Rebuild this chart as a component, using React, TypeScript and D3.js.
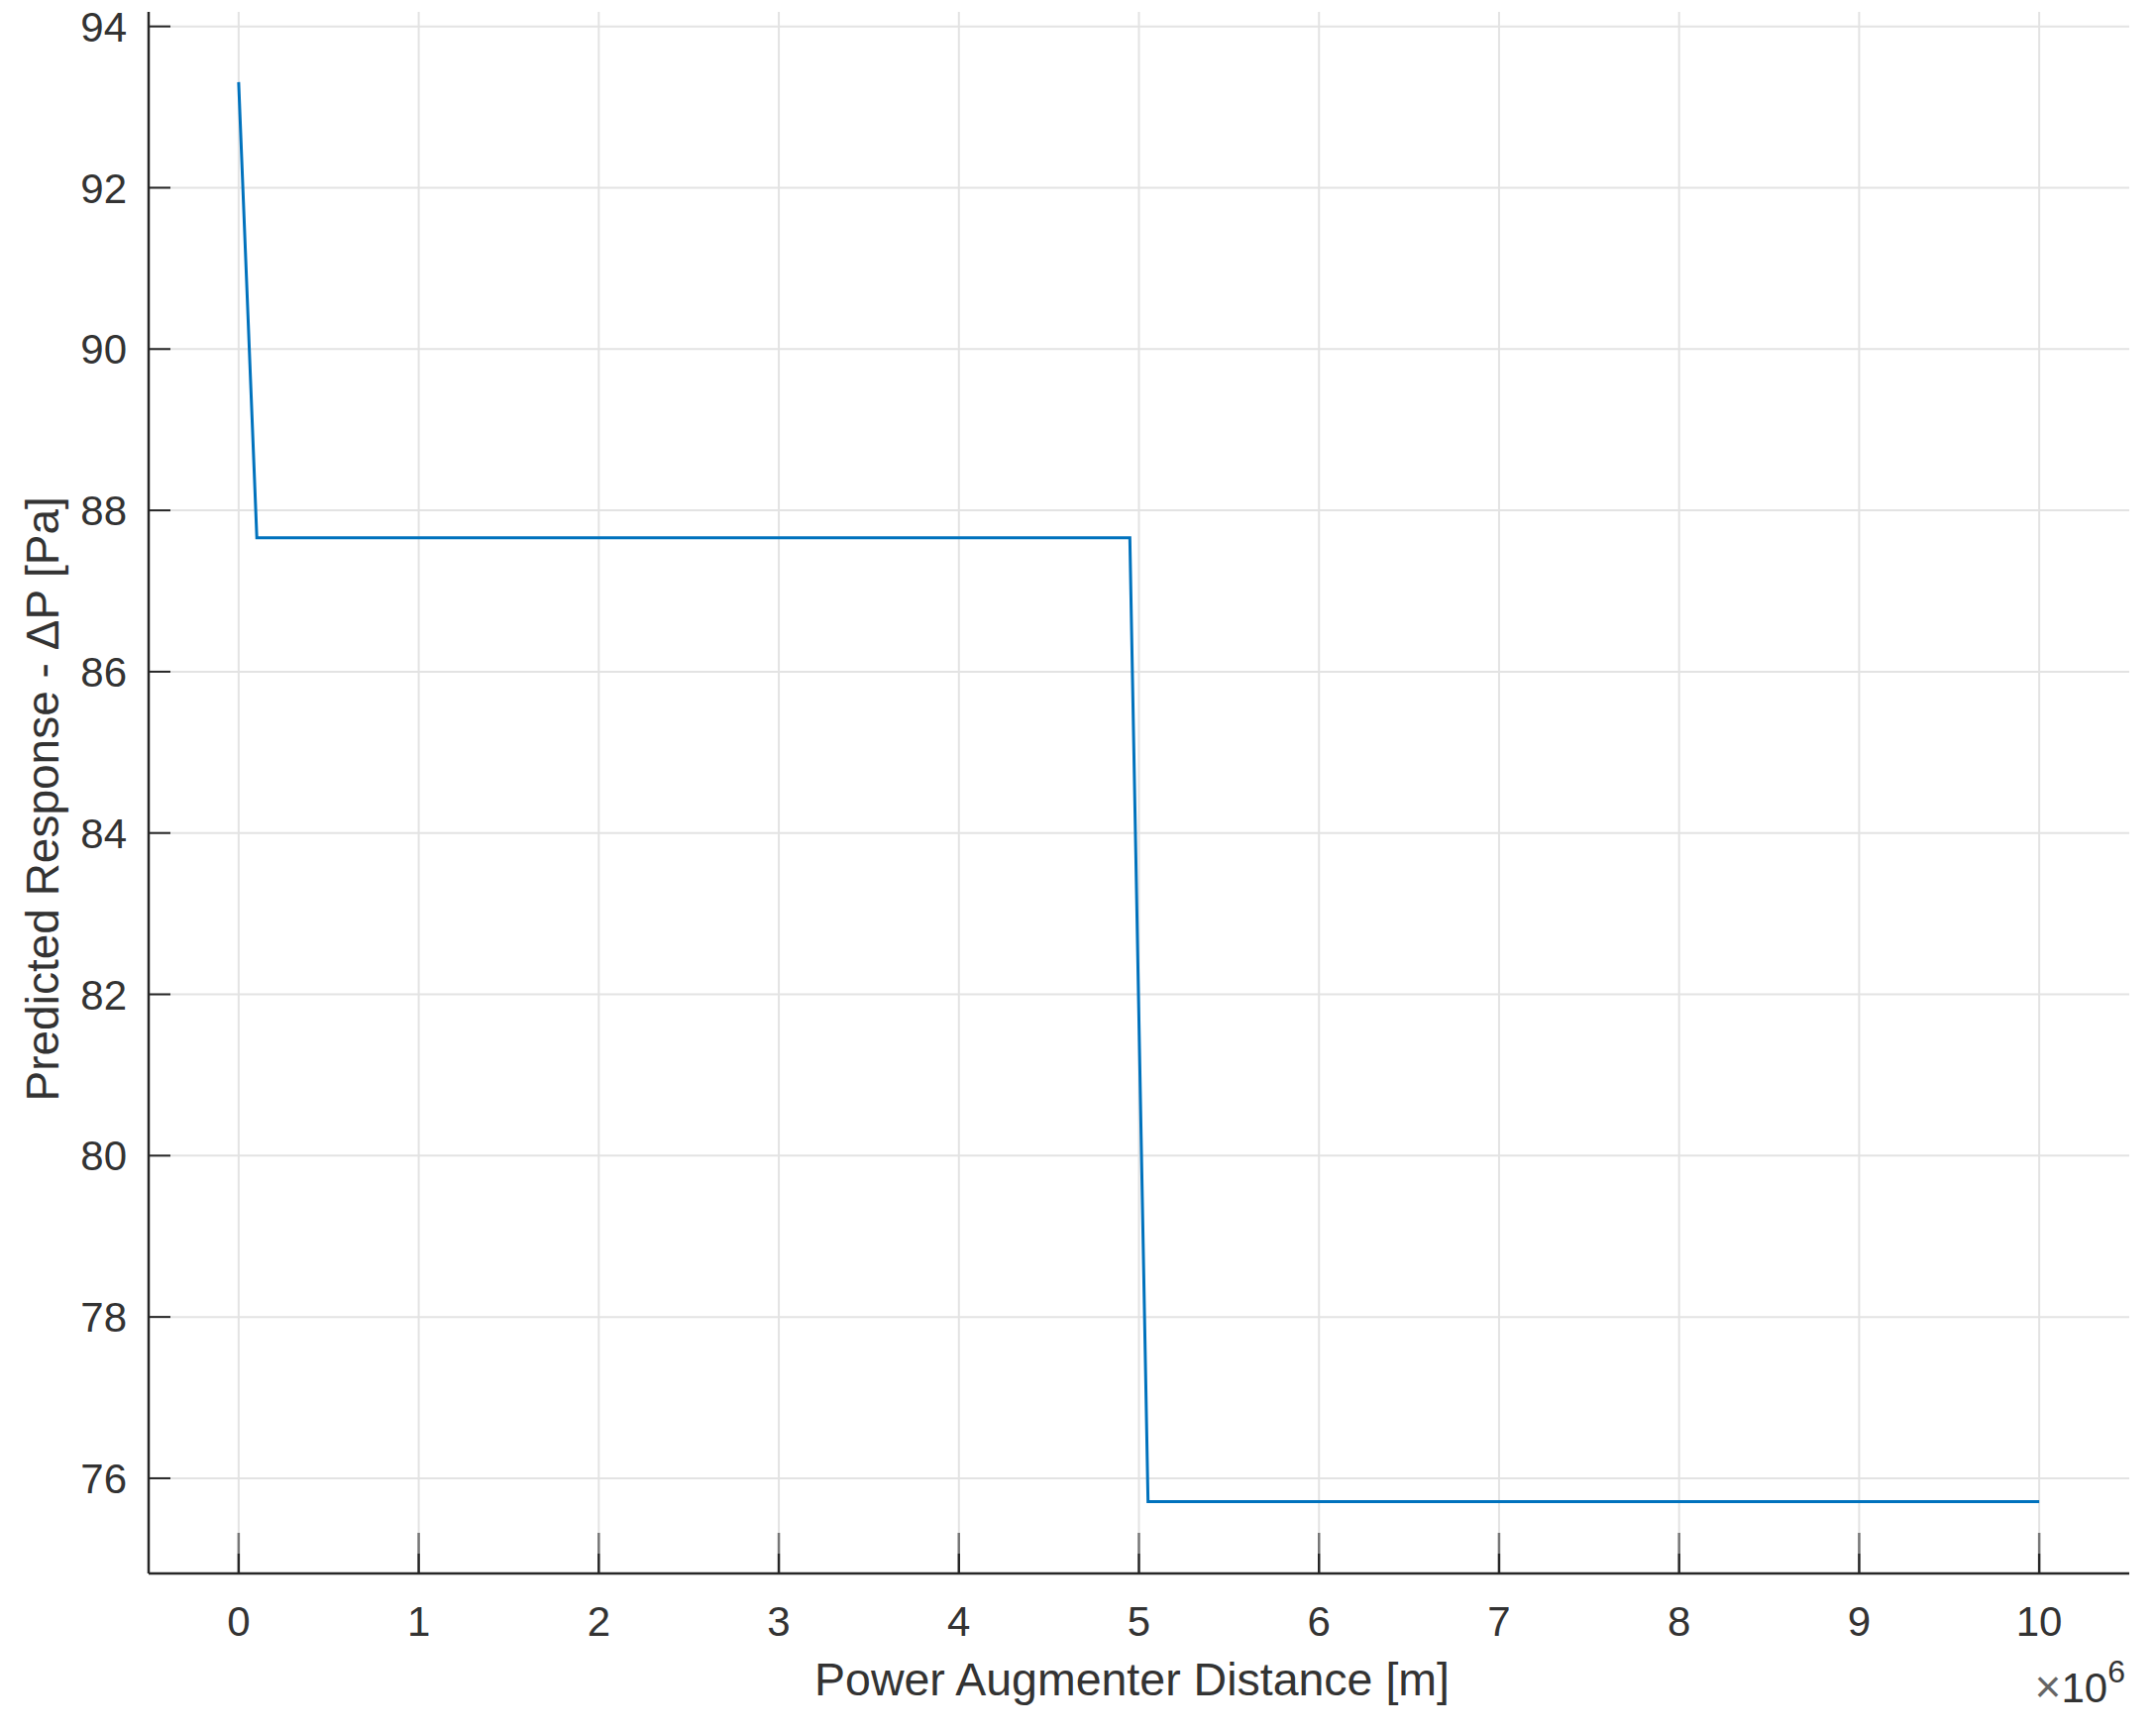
import React, { useEffect, useRef } from "react";
import * as d3 from "d3";

// step response, x in metres (axis shows x10^6)
const xValues = [0, 101010, 4949495, 5050505, 10000000];
const yValues = [93.31, 87.66, 87.66, 75.71, 75.71];
const xTicks = [0, 1, 2, 3, 4, 5, 6, 7, 8, 9, 10];
const yTicks = [76, 78, 80, 82, 84, 86, 88, 90, 92, 94];
const xLabel = "Power Augmenter Distance [m]";
const yLabel = "Predicted Response - \u0394P [Pa]";

function App() {
  const svgRef = useRef<SVGSVGElement>(null);
  const width = 2176;
  const height = 1747;

  useEffect(() => {
    const svg = d3.select(svgRef.current);
    svg.selectAll("*").remove();

    const left = 150, right = 2149, top = 12, bottom = 1588;
    const x = d3.scaleLinear().domain([-0.5, 10.5]).range([left, right]);
    const y = d3.scaleLinear().domain([74.82, 94.18]).range([bottom, top]);
    const axisColor = "#262626";
    const textColor = "#333";
    const font = "'Liberation Sans', Arial, sans-serif";

    // grid
    svg.append("g")
      .selectAll("line")
      .data(yTicks)
      .join("line")
      .attr("x1", left).attr("x2", right)
      .attr("y1", d => y(d)).attr("y2", d => y(d))
      .attr("stroke", "#e3e3e3").attr("stroke-width", 2);
    svg.append("g")
      .selectAll("line")
      .data(xTicks)
      .join("line")
      .attr("x1", d => x(d)).attr("x2", d => x(d))
      .attr("y1", top).attr("y2", bottom)
      .attr("stroke", "#e3e3e3").attr("stroke-width", 2);

    // line
    const line = d3.line<number>()
      .x((d, i) => x(xValues[i] / 1e6))
      .y(d => y(d));
    svg.append("path")
      .datum(yValues)
      .attr("d", line)
      .attr("fill", "none")
      .attr("stroke", "#0072BD")
      .attr("stroke-width", 3);

    // axes
    svg.append("line")
      .attr("x1", left).attr("x2", left).attr("y1", top).attr("y2", bottom)
      .attr("stroke", axisColor).attr("stroke-width", 2.5);
    svg.append("line")
      .attr("x1", left).attr("x2", right).attr("y1", bottom).attr("y2", bottom)
      .attr("stroke", axisColor).attr("stroke-width", 2.5);

    // y ticks
    svg.append("g")
      .selectAll("line")
      .data(yTicks)
      .join("line")
      .attr("x1", left).attr("x2", left + 22)
      .attr("y1", d => y(d)).attr("y2", d => y(d))
      .attr("stroke", axisColor).attr("stroke-width", 2);
    svg.append("g")
      .selectAll("text")
      .data(yTicks)
      .join("text")
      .attr("x", 128)
      .attr("y", d => y(d))
      .attr("dy", "0.36em")
      .attr("text-anchor", "end")
      .attr("font-family", font)
      .attr("font-size", 42)
      .attr("fill", textColor)
      .text(d => d);

    // x ticks
    const xt = svg.append("g");
    xt.selectAll("line.a")
      .data(xTicks)
      .join("line")
      .attr("class", "a")
      .attr("x1", d => x(d)).attr("x2", d => x(d))
      .attr("y1", bottom - 41).attr("y2", bottom - 20)
      .attr("stroke", "#777").attr("stroke-width", 2.5);
    xt.selectAll("line.b")
      .data(xTicks)
      .join("line")
      .attr("class", "b")
      .attr("x1", d => x(d)).attr("x2", d => x(d))
      .attr("y1", bottom - 20).attr("y2", bottom)
      .attr("stroke", axisColor).attr("stroke-width", 2.5);
    svg.append("g")
      .selectAll("text")
      .data(xTicks)
      .join("text")
      .attr("x", d => x(d))
      .attr("y", 1651)
      .attr("text-anchor", "middle")
      .attr("font-family", font)
      .attr("font-size", 42)
      .attr("fill", textColor)
      .text(d => d);

    // exponent
    const ex = svg.append("text")
      .attr("x", 2145)
      .attr("y", 1718)
      .attr("text-anchor", "end")
      .attr("font-family", font)
      .attr("font-size", 42)
      .attr("fill", textColor);
    ex.append("tspan").text("\u00d7").attr("font-size", 46).attr("fill", "#666");
    ex.append("tspan").text("10");
    ex.append("tspan").text("6").attr("font-size", 32).attr("dy", -20);

    // axis labels
    svg.append("text")
      .attr("x", (left + right) / 2 - 7)
      .attr("y", 1711)
      .attr("text-anchor", "middle")
      .attr("font-family", font)
      .attr("font-size", 46.5)
      .attr("fill", textColor)
      .text(xLabel);
    svg.append("text")
      .attr("transform", `translate(59, ${(362 + 800) / 2 * 1.3878}) rotate(-90)`)
      .attr("text-anchor", "middle")
      .attr("font-family", font)
      .attr("font-size", 46)
      .attr("fill", textColor)
      .text(yLabel);
  }, []);

  return (
    <svg
      ref={svgRef}
      width={width}
      height={height}
      style={{ position: "absolute", left: 0, top: 0, background: "#fff" }}
    />
  );
}

export default App;
